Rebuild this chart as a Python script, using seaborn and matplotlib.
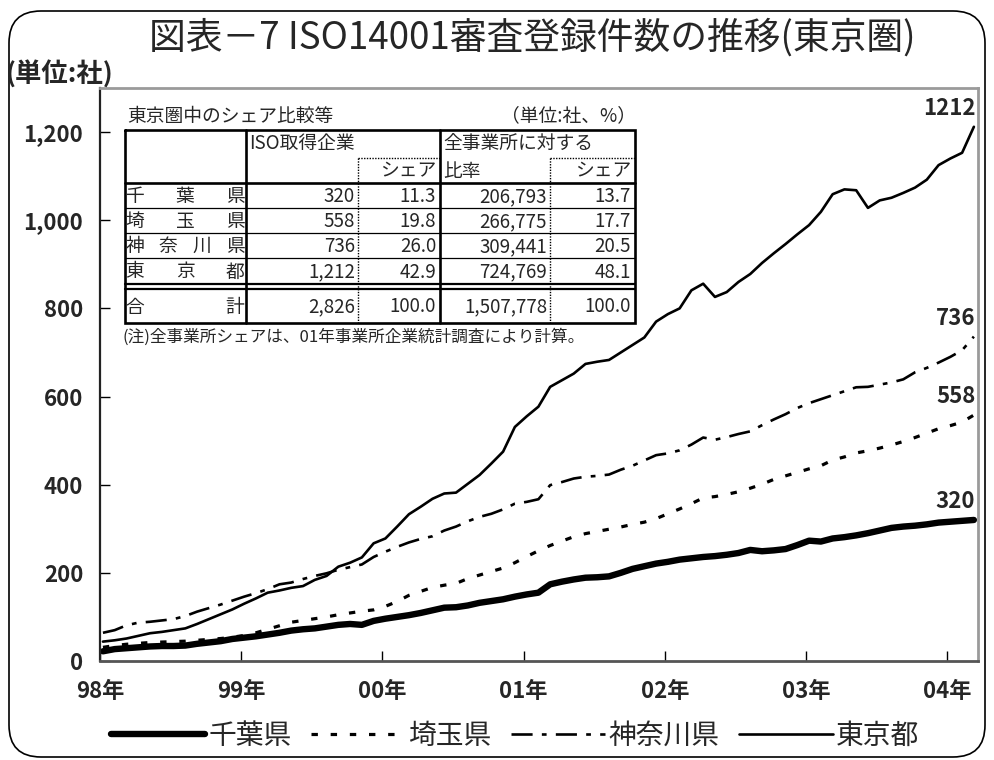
import numpy as np
import pandas as pd
import seaborn as sns
import matplotlib
matplotlib.use("Agg")
import matplotlib.pyplot as plt
from matplotlib.patches import FancyBboxPatch

sns.set_theme(style="white")
plt.rcParams['font.family'] = ['Noto Sans CJK JP', 'DejaVu Sans']

# ---- monthly registration counts (Jan 1998 - Mar 2004) ----
chiba = [22, 27, 29, 31, 33, 34, 34, 35, 39, 42, 45, 50, 53, 56, 60, 64, 69, 72, 74, 78,
         82, 84, 82, 91, 96, 100, 104, 109, 115, 121, 122, 126, 132, 136, 140, 146, 151, 155, 174, 180,
         185, 189, 190, 192, 200, 209, 215, 221, 225, 230, 233, 236, 238, 241, 245, 252, 249, 251, 254, 263,
         273, 271, 278, 281, 285, 290, 296, 302, 305, 307, 310, 314, 316, 318, 320]
saitama = [31, 35, 38, 40, 42, 43, 44, 45, 47, 49, 51, 54, 58, 64, 72, 80, 88, 92, 96, 100,
           105, 109, 113, 116, 124, 135, 149, 158, 167, 172, 176, 187, 195, 203, 211, 223, 237, 250, 262, 272,
           282, 289, 294, 299, 304, 310, 315, 323, 334, 345, 357, 370, 373, 378, 384, 392, 401, 412, 420, 428,
           436, 443, 456, 463, 472, 477, 483, 490, 498, 507, 517, 527, 534, 542, 558]
kanagawa = [64, 70, 81, 87, 89, 92, 95, 102, 112, 120, 128, 137, 146, 154, 163, 174, 178, 186, 193, 199,
            207, 213, 219, 236, 248, 259, 269, 277, 283, 296, 305, 317, 327, 334, 344, 357, 361, 367, 399, 406,
            414, 418, 420, 423, 434, 443, 455, 467, 471, 478, 491, 507, 502, 508, 515, 521, 535, 548, 560, 574,
            585, 594, 603, 612, 621, 622, 627, 632, 639, 655, 665, 677, 690, 705, 736]
tokyo = [44, 47, 51, 57, 63, 66, 70, 74, 84, 95, 106, 117, 130, 142, 155, 160, 166, 170, 184, 193,
         214, 223, 235, 267, 278, 305, 333, 350, 368, 380, 382, 402, 422, 448, 475, 531, 555, 577, 622, 637,
         652, 674, 679, 683, 700, 717, 734, 770, 787, 800, 841, 856, 826, 837, 860, 878, 903, 925, 946, 968,
         989, 1019, 1059, 1070, 1068, 1028, 1045, 1051, 1062, 1074, 1092, 1125, 1140, 1153, 1212]

prefectures = ['千葉県', '埼玉県', '神奈川県', '東京都']
year_labels = ['98年', '99年', '00年', '01年', '02年', '03年', '04年']
y_ticks = [0, 200, 400, 600, 800, 1000, 1200]

# ---- summary table ----
table_rows = ['千葉県', '埼玉県', '神奈川県', '東京都']
iso_counts = [320, 558, 736, 1212]
iso_share = [11.3, 19.8, 26.0, 42.9]
office_counts = [206793, 266775, 309441, 724769]
office_share = [13.7, 17.7, 20.5, 48.1]
total_label = '合計'
iso_total = 2826
iso_share_total = 100.0
office_total = 1507778
office_share_total = 100.0

series = [chiba, saitama, kanagawa, tokyo]
n = len(tokyo)
month = np.arange(n)
df = pd.DataFrame({
    'month': np.tile(month, 4),
    'count': np.concatenate(series),
    'pref': np.repeat(prefectures, n),
})

styles = {
    '千葉県': dict(lw=4.6, ls='-'),
    '埼玉県': dict(lw=2.3, ls=(0, (2, 4))),
    '神奈川県': dict(lw=1.9, ls=(0, (8, 3.5, 1.8, 3.5))),
    '東京都': dict(lw=1.9, ls='-'),
}

W, H = 995, 760
fig = plt.figure(figsize=(W / 100, H / 100), dpi=100)
fig.patch.set_facecolor('white')

# main axes in pixel layout
L, R, T, B = 100, 978, 88, 661
ax = fig.add_axes([L / W, 1 - B / H, (R - L) / W, (B - T) / H])

for p in prefectures:
    sub = df[df['pref'] == p]
    st = styles[p]
    sns.lineplot(data=sub, x='month', y='count', ax=ax, color='black',
                 linewidth=st['lw'], linestyle=st['ls'], label=p,
                 solid_joinstyle='round', legend=False)

ax.set_xlim(-0.25, 74.35)
ax.set_ylim(0, 1300)
ax.set_xticks(np.arange(len(year_labels)) * 12 - 0.25)
ax.set_xticklabels(year_labels)
ax.set_yticks(y_ticks)
ax.set_yticklabels([f"{t:,}" for t in y_ticks])
ax.set_xlabel('')
ax.set_ylabel('')
ax.tick_params(axis='both', direction='in', length=7, width=1, color='black',
               labelsize=16, bottom=True, left=True)
ax.tick_params(axis='y', pad=12)
ax.tick_params(axis='x', pad=14)
for lab in ax.get_xticklabels() + ax.get_yticklabels():
    lab.set_fontweight('bold')
ax.spines['left'].set_color('#222222')
ax.spines['left'].set_linewidth(1.6)
ax.spines['bottom'].set_color('#555555')
ax.spines['bottom'].set_linewidth(2.0)
for s in ('top', 'right'):
    ax.spines[s].set_color('#9a9a9a')
    ax.spines[s].set_linewidth(2.0)
ax.grid(False)

# end-of-line value labels
for vals in series:
    ax.annotate(f"{vals[-1]}", xy=(month[-1], vals[-1]), xytext=(1, 5),
                textcoords='offset points', ha='right', va='bottom',
                fontsize=16, fontweight='bold')

# legend along the bottom
leg_handles = [plt.Line2D([], [], color='black', linewidth=styles[p]['lw'],
                          linestyle=styles[p]['ls']) for p in prefectures]
fig.legend(leg_handles, prefectures, loc='center', bbox_to_anchor=(515 / W, 1 - 736 / H),
           ncol=4, frameon=False, fontsize=20, handlelength=3.4, handletextpad=0.1,
           columnspacing=0.7)

# overlay in pixel coordinates for title, table and frame
ov = fig.add_axes([0, 0, 1, 1], zorder=5)
ov.set_xlim(0, W)
ov.set_ylim(H, 0)
ov.axis('off')
ov.patch.set_alpha(0)

ov.add_patch(FancyBboxPatch((9, 11), W - 19, H - 14,
                            boxstyle="round,pad=0,rounding_size=32",
                            fill=False, edgecolor='black', linewidth=1.2))

ov.text(532, 38, '図表－7 ISO14001審査登録件数の推移(東京圏)', ha='center', va='center',
        fontsize=26.5)
ov.text(6, 75, '(単位:社)', ha='left', va='center', fontsize=19, fontweight='bold')

# table geometry
cx = [125, 246, 358, 440, 550, 635]
top, sub_line, head_bot = 130, 158, 183
row_edges = [183, 208, 233, 258, 284]
dbl = (284, 289)
bottom = 323
fs = 13.5

ov.text(127, 116, '東京圏中のシェア比較等', ha='left', va='center', fontsize=fs)
ov.text(636, 116, '（単位:社、%）', ha='right', va='center', fontsize=fs)

lw_thick = 1.9
ov.plot([cx[0], cx[-1], cx[-1], cx[0], cx[0]], [top, top, bottom, bottom, top],
        color='black', lw=lw_thick, solid_joinstyle='miter')
for x in (cx[1], cx[3]):
    ov.plot([x, x], [top, bottom], color='black', lw=lw_thick)
for x in (cx[2], cx[4]):
    ov.plot([x, x], [sub_line, bottom], color='black', lw=1.0, ls=(0, (1, 1)))
ov.plot([cx[2], cx[3]], [sub_line, sub_line], color='black', lw=1.0, ls=(0, (1, 1)))
ov.plot([cx[4], cx[5]], [sub_line, sub_line], color='black', lw=1.0, ls=(0, (1, 1)))
ov.plot([cx[0], cx[-1]], [head_bot, head_bot], color='black', lw=lw_thick)
for y in row_edges[1:-1]:
    ov.plot([cx[0], cx[-1]], [y, y], color='black', lw=0.9)
for y in dbl:
    ov.plot([cx[0], cx[-1]], [y, y], color='black', lw=1.6)

ov.text(cx[1] + 3, 144, 'ISO取得企業', ha='left', va='center', fontsize=fs)
ov.text(cx[3] + 3, 144, '全事業所に対する', ha='left', va='center', fontsize=fs)
ov.text(cx[3] - 4, 171, 'シェア', ha='right', va='center', fontsize=fs)
ov.text(cx[3] + 3, 171, '比率', ha='left', va='center', fontsize=fs)
ov.text(cx[5] - 4, 171, 'シェア', ha='right', va='center', fontsize=fs)


def row_label(label, yc):
    chars = list(label)
    xs = np.linspace(cx[0] + 10, cx[1] - 11, len(chars))
    for ch, x in zip(chars, xs):
        ov.text(x, yc, ch, ha='center', va='center', fontsize=fs)


def row_values(yc, a, b, c, d):
    ov.text(cx[2] - 3, yc, f"{a:,}", ha='right', va='center', fontsize=fs)
    ov.text(cx[3] - 4, yc, f"{b:.1f}", ha='right', va='center', fontsize=fs)
    ov.text(cx[4] - 3, yc, f"{c:,}", ha='right', va='center', fontsize=fs)
    ov.text(cx[5] - 4, yc, f"{d:.1f}", ha='right', va='center', fontsize=fs)


for i, name in enumerate(table_rows):
    yc = (row_edges[i] + row_edges[i + 1]) / 2 + 1
    row_label(name, yc)
    row_values(yc, iso_counts[i], iso_share[i], office_counts[i], office_share[i])

yc = (dbl[1] + bottom) / 2 + 1
row_label(total_label, yc)
row_values(yc, iso_total, iso_share_total, office_total, office_share_total)

ov.text(122, 337, '(注)全事業所シェアは、01年事業所企業統計調査により計算。',
        ha='left', va='center', fontsize=12)

fig.savefig('out.png', dpi=100, facecolor='white')
